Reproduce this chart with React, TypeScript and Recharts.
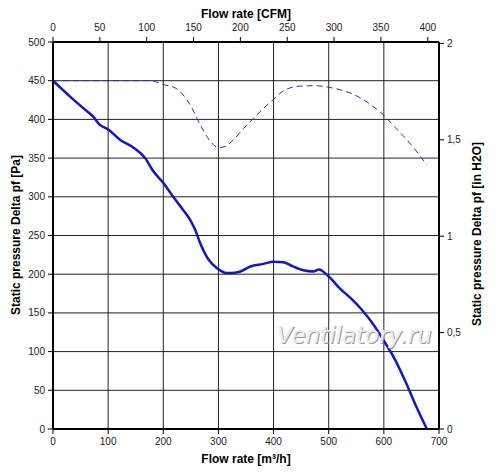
import { LineChart, Line, XAxis, YAxis, CartesianGrid } from 'recharts';

// static pressure curve, flow in m³/h, pressure in Pa
const flowSolid = [
  0, 31, 55, 73, 85, 100, 122, 146, 167, 182, 200, 218, 235, 249, 258, 267, 282, 297, 315, 330, 340, 358,
  380, 400, 418, 435, 454, 472, 482, 500, 521, 540, 560, 580, 600, 620, 640, 660, 678,
];
const pressureSolid = [
  450, 429.5, 414.5, 403.5, 393, 387, 373.5, 363.5, 350, 333, 318, 300, 284, 270, 257, 240, 219, 208, 201.5,
  202, 203.5, 210, 213, 216, 215.5, 210, 205, 203.5, 206, 197, 181, 169, 154, 136, 114, 90, 60, 27, 0,
];

// dashed curve
const flowDashed = [
  0, 100, 176, 203, 221, 249, 267, 285, 300, 312, 327, 345, 361, 380, 400, 418, 448, 478, 500, 539, 557,
  580, 599, 620, 642, 678,
];
const pressureDashed = [
  450, 450, 450, 444.5, 441, 418.5, 393, 372, 363.5, 365, 373.5, 388, 399.5, 413, 426, 437, 443, 443.5,
  441.5, 434, 428, 417, 406, 390, 373.5, 341,
];

const flowTicks = [0, 100, 200, 300, 400, 500, 600, 700];
const cfmTicks = [0, 50, 100, 150, 200, 250, 300, 350, 400];
const paTicks = [0, 50, 100, 150, 200, 250, 300, 350, 400, 450, 500];
const inchTicks = [0, 0.5, 1, 1.5, 2];

const M3H_PER_CFM = 1.699;
const PA_PER_INH2O = 249.09;

const solidData = flowSolid.map((x, i) => ({ x, y: pressureSolid[i] }));
const dashedData = flowDashed.map((x, i) => ({ x, y: pressureDashed[i] }));
// same curve in CFM / in H2O, only to carry the top and right axes
const solidImperial = flowSolid.map((x, i) => ({ x: x / M3H_PER_CFM, y: pressureSolid[i] / PA_PER_INH2O }));

const font = 'Liberation Sans, Arial, sans-serif';
const tickStyle = { fill: '#222', fontSize: 10, fontFamily: font };
const axisLine = { stroke: '#000', strokeWidth: 2 };
const tickLine = { stroke: '#000', strokeWidth: 1 };

export default function App() {
  return (
    <div style={{ position: 'absolute', left: 0, top: 0, width: 500, height: 473, background: '#fff' }}>
      <LineChart width={500} height={473} margin={{ top: 0, right: 0, bottom: 0, left: 0 }}>
        <CartesianGrid xAxisId="bottom" yAxisId="left" stroke="#222" strokeWidth={1} />
        <XAxis
          xAxisId="bottom"
          type="number"
          dataKey="x"
          orientation="bottom"
          domain={[0, 700]}
          ticks={flowTicks}
          height={44}
          tickSize={5}
          tickMargin={4}
          tick={tickStyle}
          axisLine={axisLine}
          tickLine={tickLine}
          allowDataOverflow
        />
        <XAxis
          xAxisId="top"
          type="number"
          dataKey="x"
          orientation="top"
          domain={[0, 700 / M3H_PER_CFM]}
          ticks={cfmTicks}
          height={42}
          tickSize={5}
          tickMargin={6}
          tick={tickStyle}
          axisLine={axisLine}
          tickLine={tickLine}
          allowDataOverflow
        />
        <YAxis
          yAxisId="left"
          type="number"
          domain={[0, 500]}
          ticks={paTicks}
          width={53}
          tickSize={5}
          tickMargin={3}
          tick={tickStyle}
          axisLine={axisLine}
          tickLine={tickLine}
          allowDataOverflow
        />
        <YAxis
          yAxisId="right"
          type="number"
          orientation="right"
          domain={[0, 500 / PA_PER_INH2O]}
          ticks={inchTicks}
          tickFormatter={(v: number) => String(v).replace('.', ',')}
          width={61}
          tickSize={5}
          tickMargin={3}
          tick={tickStyle}
          axisLine={axisLine}
          tickLine={tickLine}
          allowDataOverflow
        />
        <Line
          xAxisId="top"
          yAxisId="right"
          data={solidImperial}
          dataKey="y"
          type="monotone"
          stroke="none"
          dot={false}
          activeDot={false}
          isAnimationActive={false}
        />
        <Line
          xAxisId="bottom"
          yAxisId="left"
          data={dashedData}
          dataKey="y"
          type="monotone"
          stroke="#2a2acc"
          strokeWidth={1}
          strokeDasharray="6 4"
          dot={false}
          isAnimationActive={false}
        />
        <Line
          xAxisId="bottom"
          yAxisId="left"
          data={solidData}
          dataKey="y"
          type="monotone"
          stroke="#1414c8"
          strokeWidth={2.5}
          dot={false}
          isAnimationActive={false}
        />
      </LineChart>
      <svg
        width={500}
        height={473}
        style={{ position: 'absolute', left: 0, top: 0, pointerEvents: 'none' }}
      >
        <g fontFamily={font} fontWeight="bold" fontSize={12} fill="#000">
          <text x={246} y={17.5} textAnchor="middle">Flow rate [CFM]</text>
          <text x={246} y={463} textAnchor="middle">Flow rate [m³/h]</text>
          <text x={19.5} y={235} textAnchor="middle" transform="rotate(-90 19.5 235)">
            Static pressure Delta pf [Pa]
          </text>
          <text x={480.5} y={234} textAnchor="middle" transform="rotate(-90 480.5 234)">
            Static pressure Delta pf [in H2O]
          </text>
        </g>
        <g fontFamily="DejaVu Sans, sans-serif" fontStyle="italic" fontSize={23}>
          <text x={278} y={344} fill="#9a9a9a">Ventilatory.ru</text>
          <text x={277} y={343} fill="#ececec">Ventilatory.ru</text>
        </g>
      </svg>
    </div>
  );
}
